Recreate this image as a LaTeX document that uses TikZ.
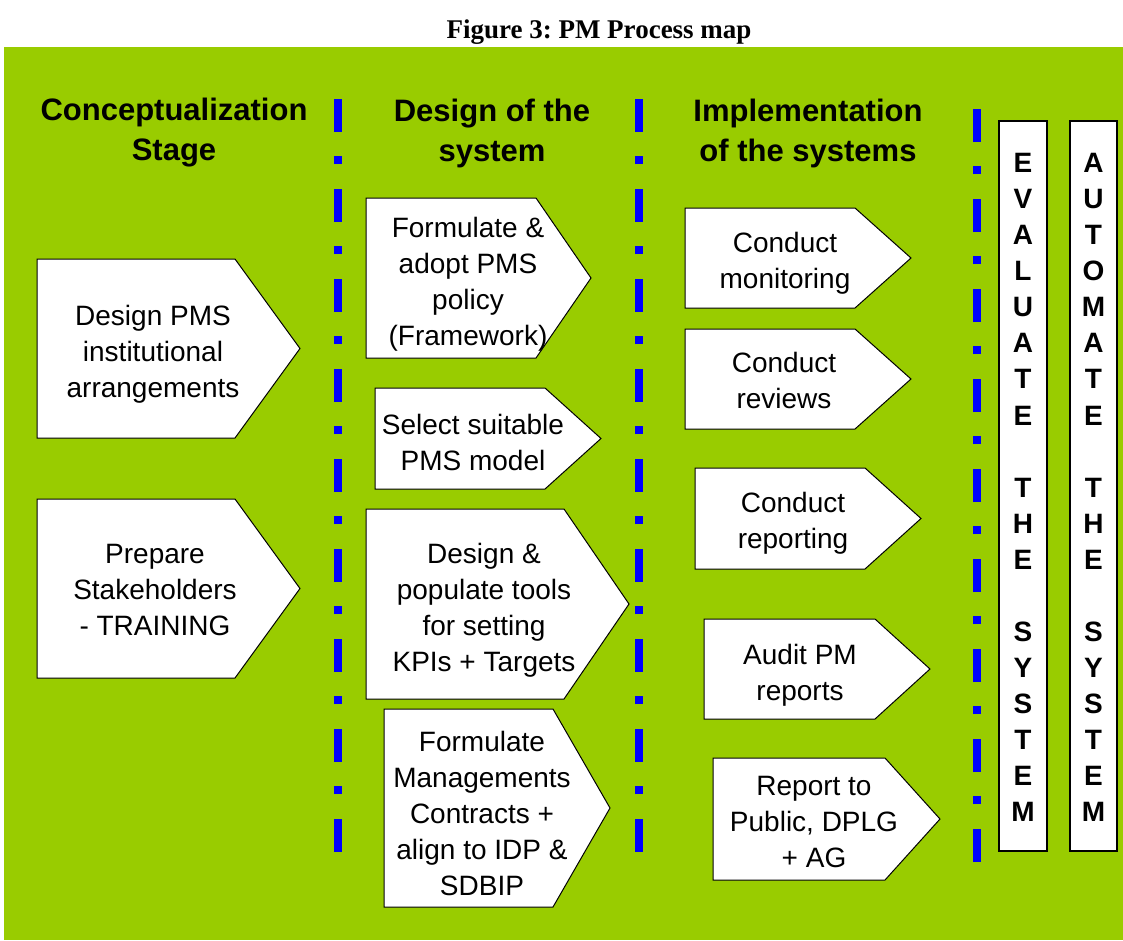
\documentclass[tikz,border=0pt]{standalone}
\usepackage{fontspec}
\newfontfamily\bodyfont{Liberation Sans}
\newfontfamily\titlefont{Liberation Serif}
\definecolor{leaf}{RGB}{153,204,0}
\definecolor{divider}{RGB}{0,0,255}
\frenchspacing
\begin{document}
\begin{tikzpicture}[x=1pt,y=-1pt,
  arrowshape/.style={draw=black,fill=white,line width=1pt,line join=miter},
  steptext/.style={align=center,inner sep=0pt,font=\bodyfont\fontsize{28}{36}\selectfont},
  headtext/.style={align=center,inner sep=0pt,font=\bodyfont\bfseries\fontsize{31}{40}\selectfont},
  lettertext/.style={align=center,inner sep=0pt,font=\bodyfont\bfseries\fontsize{28}{36.06}\selectfont},
  columnbox/.style={draw=black,fill=white,line width=1.4pt},
  divline/.style={draw=divider,line width=8pt,dash pattern=on 33pt off 24pt on 8pt off 25pt}]
\useasboundingbox (0,0) rectangle (1123,940);
\fill[white] (0,0) rectangle (1123,940);
\fill[leaf] (4,47) rectangle (1123,940);

% title
\node[font=\titlefont\bfseries\fontsize{27}{32}\selectfont,inner sep=0pt] (title) at (599,32) {Figure 3: PM Process map};

% column dividers
\draw[divline] (338,99) -- (338,852);
\draw[divline] (639,99) -- (639,852);
\draw[divline] (977,109) -- (977,862);

% column headings
\node[headtext] (h1) at (174,133) {Conceptualization\\Stage};
\node[headtext] (h2) at (492,133) {Design of the\\system};
\node[headtext] (h3) at (808,133) {Implementation\\of the systems};

% pentagon arrow: left x, notch x, tip x, top y, bottom y
\newcommand\pentarrow[5]{%
  \draw[arrowshape] (#1,#4) -- (#2,#4) -- (#3,{(#4+#5)/2}) -- (#2,#5) -- (#1,#5) -- cycle;}

% conceptualization stage
\pentarrow{37}{235}{300}{259}{438}
\node[steptext] (c1) at (153,354) {Design PMS\\institutional\\arrangements};
\pentarrow{37}{235}{300}{499}{678}
\node[steptext] (c2) at (155,590) {Prepare\\Stakeholders\\- TRAINING};

% design of the system
\pentarrow{366}{536}{591}{198}{358}
\node[steptext] (d1) at (468,284) {Formulate \&\\adopt PMS\\policy\\(Framework)};
\pentarrow{375}{545}{601}{388}{489}
\node[steptext] (d2) at (473,442) {Select suitable\\PMS model};
\pentarrow{366}{564}{629}{509}{699}
\node[steptext] (d3) at (484,610) {Design \&\\populate tools\\for setting\\KPIs + Targets};
\pentarrow{384}{553}{610}{709}{907}
\node[steptext] (d4) at (482,813) {Formulate\\Managements\\Contracts +\\align to IDP \&\\SDBIP};

% implementation of the systems
\pentarrow{685}{855}{911}{208}{308}
\node[steptext] (i1) at (785,263) {Conduct\\monitoring};
\pentarrow{685}{855}{911}{329}{429}
\node[steptext] (i2) at (784,380) {Conduct\\reviews};
\pentarrow{695}{865}{921}{468}{569}
\node[steptext] (i3) at (793,523) {Conduct\\reporting};
\pentarrow{704}{875}{930}{619}{719}
\node[steptext] (i4) at (800,675) {Audit PM\\reports};
\pentarrow{713}{885}{940}{758}{880}
\node[steptext] (i5) at (814,822) {Report to\\Public, DPLG\\+ AG};

% vertical banners
\draw[columnbox] (999,121) rectangle (1047,851);
\node[lettertext] (evaluate) at (1023,487.5) {E\\V\\A\\L\\U\\A\\T\\E\\ \\T\\H\\E\\ \\S\\Y\\S\\T\\E\\M};
\draw[columnbox] (1070,121) rectangle (1117,851);
\node[lettertext] (automate) at (1093.5,487.5) {A\\U\\T\\O\\M\\A\\T\\E\\ \\T\\H\\E\\ \\S\\Y\\S\\T\\E\\M};
\end{tikzpicture}
\end{document}
